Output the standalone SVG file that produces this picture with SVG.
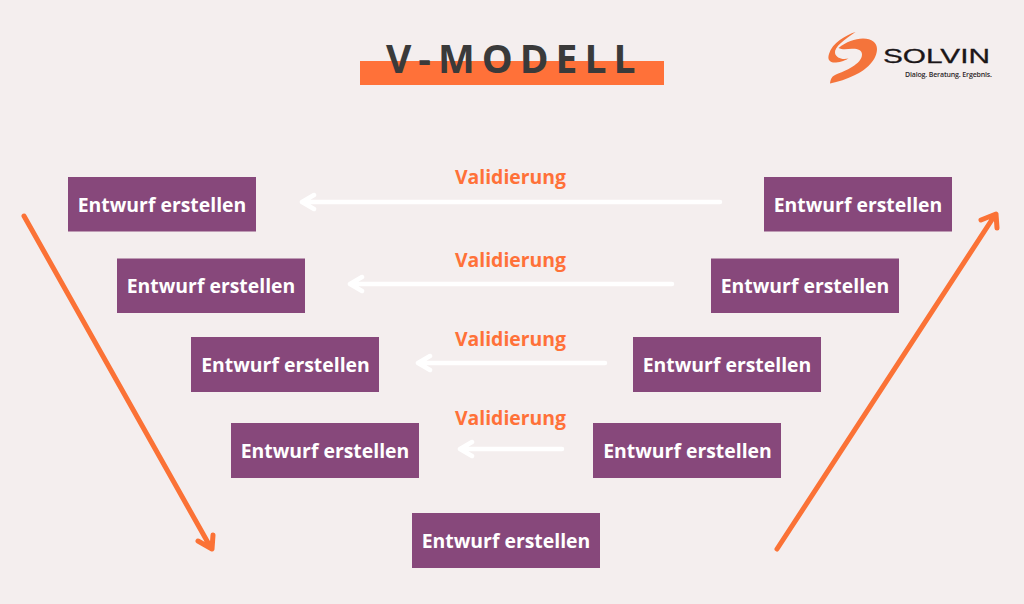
<svg xmlns="http://www.w3.org/2000/svg" width="1024" height="604" viewBox="0 0 1024 604">
<defs>
<style>
.box{fill:#87487b}
.lbl{font:700 19.400px "Open Sans",sans-serif;fill:#fff;text-anchor:middle}
.val{font:700 19.400px "Open Sans",sans-serif;fill:#ff7139;text-anchor:middle}
.w{fill:none;stroke:#fff;stroke-width:4.500;stroke-linecap:round;stroke-linejoin:round}
.o{fill:none;stroke:#fb7236;stroke-width:5;stroke-linecap:round;stroke-linejoin:round}
</style>
</defs>
<rect width="1024" height="604" fill="#f4eeee"/>
<g id="title">
<rect x="360" y="61" width="304" height="24" fill="#ff7139"/>
<text x="386" y="73" font-family="'Open Sans',sans-serif" font-weight="700" font-size="39" letter-spacing="7" fill="#3a3a3a">V-MODELL</text>
</g>
<g id="logo">
<path d="M855.500 32C846 35 832 43 829 54C827 60 830 63 836 62.500C841 62 846 60 848.500 58.500C842 60 836 58 835 53C834 47 845 39 855.500 32Z" fill="#f4743b"/>
<path d="M838.500 48C846 42 855 38.500 863 38.500C872 38.500 877 43 877 49C877 60 866 70 855 75C847 79 838 82 830 83.500C830.500 79 832 76 836 74.500C845 71 862 64 862 54.500C862 50 857 48.500 852 48.800C847 49.200 842 50 838.500 48Z" fill="#f4743b"/>
<text x="883" y="63" font-family="'Liberation Sans',sans-serif" font-size="21" textLength="107" lengthAdjust="spacingAndGlyphs" fill="#1b1618" stroke="#1b1618" stroke-width="0.300">SOLVIN</text>
<text x="905" y="77" font-family="'Open Sans',sans-serif" font-weight="600" font-size="7" textLength="87" lengthAdjust="spacing" fill="#2e272b">Dialog. Beratung. Ergebnis.</text>
</g>
<g id="connectors">
<path class="w" d="M720 202H303M314 195L302 202L314 209"/>
<path class="w" d="M672 284H350M362 277L350 284L362 291"/>
<path class="w" d="M605 363H418M430 356L418 363L430 370"/>
<path class="w" d="M562 449H460M472 442L460 449L472 456"/>
<path class="o" d="M24 216L211 548M198 541L212 549L213 535"/>
<path class="o" d="M777 549L995 215M981 220L996 214L997 228"/>
</g>
<g id="validierung">
<text class="val" x="510.500" y="183.500">Validierung</text>
<text class="val" x="510.500" y="266.500">Validierung</text>
<text class="val" x="510.500" y="345.500">Validierung</text>
<text class="val" x="510.500" y="424.500">Validierung</text>
</g>
<g id="node-l1"><rect class="box" x="68" y="177" width="188" height="54.500"/><text class="lbl" x="162" y="211.500">Entwurf erstellen</text></g>
<g id="node-l2"><rect class="box" x="117" y="258.500" width="188" height="54.500"/><text class="lbl" x="211" y="292.500">Entwurf erstellen</text></g>
<g id="node-l3"><rect class="box" x="191" y="337" width="188" height="55"/><text class="lbl" x="285.500" y="371.500">Entwurf erstellen</text></g>
<g id="node-l4"><rect class="box" x="231" y="423" width="188" height="55"/><text class="lbl" x="325" y="458">Entwurf erstellen</text></g>
<g id="node-b"><rect class="box" x="412" y="513" width="188" height="55"/><text class="lbl" x="506" y="547.500">Entwurf erstellen</text></g>
<g id="node-r1"><rect class="box" x="764" y="177" width="188" height="54.500"/><text class="lbl" x="858" y="211.500">Entwurf erstellen</text></g>
<g id="node-r2"><rect class="box" x="711" y="258.500" width="188" height="54.500"/><text class="lbl" x="805" y="292.500">Entwurf erstellen</text></g>
<g id="node-r3"><rect class="box" x="633" y="337" width="188" height="55"/><text class="lbl" x="727" y="371.500">Entwurf erstellen</text></g>
<g id="node-r4"><rect class="box" x="593" y="423" width="188" height="55"/><text class="lbl" x="687.500" y="458">Entwurf erstellen</text></g>
</svg>
